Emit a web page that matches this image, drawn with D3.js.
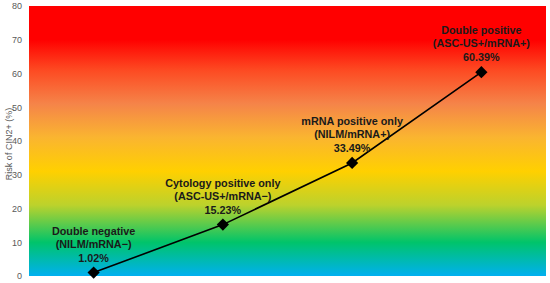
<!DOCTYPE html>
<html>
<head>
<meta charset="utf-8">
<script src="https://cdn.jsdelivr.net/npm/d3@7"></script>
<style>
  body { margin: 0; background: #fff; }
  text { font-family: "Liberation Sans", Arial, sans-serif; }
</style>
</head>
<body>
<svg id="chart"></svg>
<script>
// data
const groups = ["Double negative", "Cytology positive only", "mRNA positive only", "Double positive"]
const subtitles = ["(NILM/mRNA\u2212)", "(ASC-US+/mRNA\u2212)", "(NILM/mRNA+)", "(ASC-US+/mRNA+)"]
const risk = [1.02, 15.23, 33.49, 60.39]
const yTicks = [0, 10, 20, 30, 40, 50, 60, 70, 80]

// gradient stops in data units (value -> colour)
const bgStops = [
  [0, "#00b0f0"], [10, "#00c46a"], [21, "#bcd22c"], [31, "#ffd000"],
  [41, "#fab530"], [51, "#f58449"], [61, "#fd4a22"], [70, "#ff0000"], [80, "#ff0000"]
]

const width = 550
const height = 283
const margin = { top: 6, right: 4, bottom: 7, left: 29 }

const svg = d3.select("#chart")
    .attr("width", width)
    .attr("height", height)

const x = d3.scaleBand()
    .domain(groups)
    .range([margin.left, width - margin.right])

const y = d3.scaleLinear()
    .domain([0, 80])
    .range([height - margin.bottom, margin.top])

const defs = svg.append("defs")
const grad = defs.append("linearGradient")
    .attr("id", "bg")
    .attr("gradientUnits", "userSpaceOnUse")
    .attr("x1", 0).attr("x2", 0)
    .attr("y1", y(0)).attr("y2", y(80))

grad.selectAll("stop")
    .data(bgStops)
    .enter().append("stop")
    .attr("offset", d => d[0] / 80)
    .attr("stop-color", d => d[1])

// plot background
svg.append("rect")
    .attr("x", margin.left)
    .attr("y", y(80))
    .attr("width", width - margin.right - margin.left)
    .attr("height", y(0) - y(80))
    .attr("fill", "url(#bg)")

// y axis
const yAxis = svg.append("g")
    .attr("transform", `translate(${margin.left},0)`)
    .call(d3.axisLeft(y).tickValues(yTicks).tickSize(0).tickPadding(7))

yAxis.select(".domain").remove()
yAxis.selectAll("text")
    .attr("fill", "#595959")
    .style("font-size", "9px")

svg.append("text")
    .attr("transform", `translate(9,144) rotate(-90)`)
    .attr("text-anchor", "middle")
    .attr("dy", "0.35em")
    .attr("fill", "#595959")
    .style("font-size", "9px")
    .text("Risk of CIN2+ (%)")

// line
const cx = (d, i) => x(groups[i]) + x.bandwidth() / 2

const line = d3.line()
    .x((d, i) => cx(d, i))
    .y(d => y(d))

svg.append("path")
    .datum(risk)
    .attr("d", line)
    .attr("fill", "none")
    .attr("stroke", "#000")
    .attr("stroke-width", 1.6)

svg.selectAll(".pt")
    .data(risk)
    .enter().append("path")
    .attr("class", "pt")
    .attr("d", d3.symbol(d3.symbolDiamond2, 95))
    .attr("transform", (d, i) => `translate(${cx(d, i)},${y(d)})`)
    .attr("fill", "#000")

// labels
const lab = svg.selectAll(".lab")
    .data(risk)
    .enter().append("text")
    .attr("class", "lab")
    .attr("text-anchor", "middle")
    .attr("fill", "#1a1a1a")
    .style("font-size", "10.8px")
    .style("font-weight", "bold")

lab.append("tspan")
    .attr("x", (d, i) => cx(d, i))
    .attr("y", d => y(d) - 38)
    .text((d, i) => groups[i])
lab.append("tspan")
    .attr("x", (d, i) => cx(d, i))
    .attr("y", d => y(d) - 25)
    .text((d, i) => subtitles[i])
lab.append("tspan")
    .attr("x", (d, i) => cx(d, i))
    .attr("y", d => y(d) - 11)
    .text(d => d.toFixed(2) + "%")
</script>
</body>
</html>
